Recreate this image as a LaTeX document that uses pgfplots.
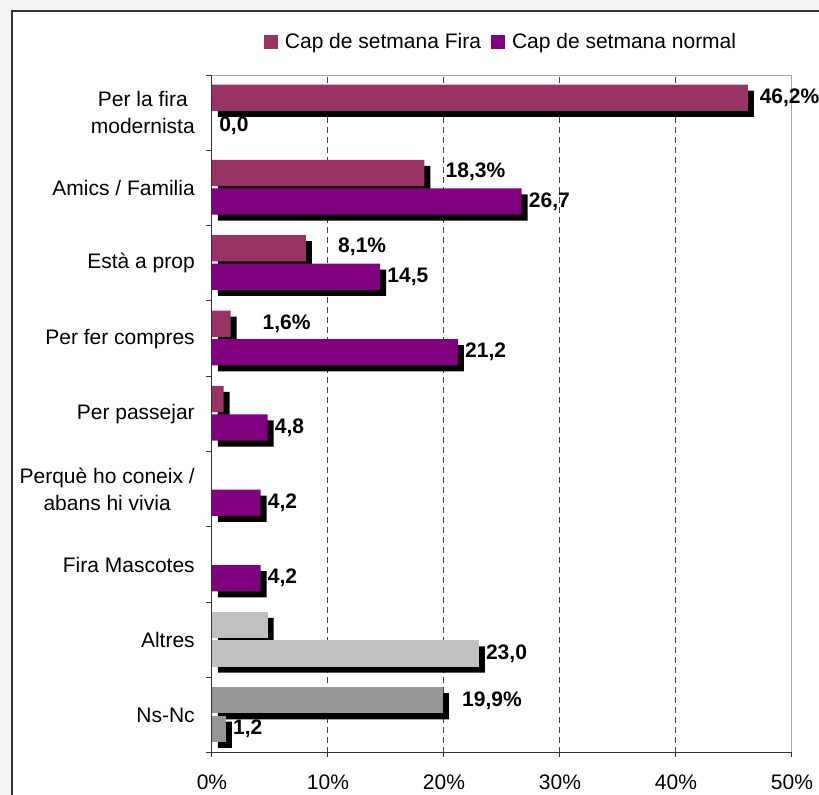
\documentclass[border=0pt]{standalone}
\usepackage{fontspec}
\setmainfont{Liberation Sans}
\usepackage{pgfplots}
\pgfplotsset{compat=1.18}
\definecolor{firacol}{HTML}{993366}
\definecolor{normcol}{HTML}{800080}
\definecolor{altrescol}{HTML}{C0C0C0}
\definecolor{nsnccol}{HTML}{969696}
\definecolor{bgcol}{HTML}{F4F4F4}
\newcommand\cf{\fontsize{15.75}{20.25}\selectfont}

% categories from top to bottom sit at y = 8,7,...,0
% Fira bars at y+0.199, normal bars at y-0.179
\begin{document}
\cf
\begin{tikzpicture}
\useasboundingbox (0,0) rectangle (614.25pt,596.25pt);
\fill[bgcol] (0,0) rectangle (614.25pt,596.25pt);
\begin{scope}
\clip (0,0) rectangle (614.25pt,596.25pt);
\draw[black!80, fill=white, line width=0.9pt] (9pt,-10pt) rectangle (630pt,588pt);
\end{scope}
\begin{axis}[
    at={(159pt,31.5pt)}, anchor=south west,
    scale only axis, width=435pt, height=508.5pt,
    clip=false,
    xmin=0, xmax=50, ymin=-0.5, ymax=8.5,
    axis line style={black!35, line width=0.75pt},
    tick align=outside,
    major tick length=6pt, minor tick length=4.5pt,
    tick style={black!80, line width=0.75pt},
    xtick={0,10,...,50},
    xticklabel={\pgfmathprintnumber{\tick}\%},
    xtick pos=bottom, ytick pos=left,
    xtick style={yshift=3pt},
    extra x ticks={10,20,30,40},
    extra x tick labels={},
    extra x tick style={grid=major, major tick length=0pt},
    major x grid style={black!75, line width=0.75pt, dash pattern=on 4.5pt off 3pt},
    ytick={0,...,8},
    yticklabels={Ns-Nc, Altres, Fira Mascotes, {Perquè ho coneix /\\abans hi vivia}, Per passejar, Per fer compres, Està a prop, Amics / Familia, {Per la fira\\modernista}},
    minor ytick={-0.5,0.5,...,8.5},
    every major y tick/.append style={draw=none},
    tick label style={font=\cf, inner sep=0pt},
    yticklabel style={align=center, xshift=-6.75pt},
    xticklabel style={yshift=-10.5pt},
    /pgf/number format/assume math mode=true,
    legend image code/.code={\fill[#1] (0pt,-5.25pt) rectangle (10.5pt,5.25pt);},
    legend columns=2,
    legend style={draw=none, fill=none, font=\cf, at={(0.4966,1.0487)}, anchor=center,
        nodes={inner sep=0pt},
        /tikz/every odd column/.append style={column sep=5.25pt},
        /tikz/every even column/.append style={column sep=7.5pt}},
    nodes near coords style={font=\cf\bfseries, anchor=west, inner sep=0pt, xshift=5.25pt,
        /pgf/number format/.cd, fixed, fixed zerofill, precision=1, use comma},
]
% shadows
\addplot[forget plot, xbar, bar width=0.349, bar shift=0pt, fill=black, draw=none, xshift=4.5pt, yshift=-4.5pt]
    coordinates {(46.2,8.199) (18.3,7.199) (8.1,6.199) (1.6,5.199) (1.0,4.199) (4.8,1.199) (19.9,0.199)};
\addplot[forget plot, xbar, bar width=0.349, bar shift=0pt, fill=black, draw=none, xshift=4.5pt, yshift=-4.5pt]
    coordinates {(26.7,6.821) (14.5,5.821) (21.2,4.821) (4.8,3.821) (4.2,2.821) (4.2,1.821) (23.0,0.821) (1.2,-0.179)};

% Cap de setmana Fira
\addplot[xbar, bar width=0.349, bar shift=0pt, fill=firacol, draw=none]
    coordinates {(46.2,8.199) (18.3,7.199) (8.1,6.199) (1.6,5.199) (1.0,4.199) (0,3.199) (0,2.199)};
\addlegendentry{Cap de setmana Fira}
% Cap de setmana normal
\addplot[xbar, bar width=0.349, bar shift=0pt, fill=normcol, draw=none, nodes near coords]
    coordinates {(0.0,7.821) (26.7,6.821) (14.5,5.821) (21.2,4.821) (4.8,3.821) (4.2,2.821) (4.2,1.821)};
\addlegendentry{Cap de setmana normal}

% Altres and Ns-Nc
\addplot[forget plot, xbar, bar width=0.349, bar shift=0pt, fill=altrescol, draw=none]
    coordinates {(4.8,1.199)};
\addplot[forget plot, xbar, bar width=0.349, bar shift=0pt, fill=altrescol, draw=none, nodes near coords]
    coordinates {(23.0,0.821)};
\addplot[forget plot, xbar, bar width=0.349, bar shift=0pt, fill=nsnccol, draw=none]
    coordinates {(19.9,0.199)};
\addplot[forget plot, xbar, bar width=0.349, bar shift=0pt, fill=nsnccol, draw=none, nodes near coords]
    coordinates {(1.2,-0.179)};

% labels of the Fira series, placed as in the original
\begin{scope}[every node/.style={font=\cf\bfseries, anchor=west, inner sep=0pt}]
\node at (axis cs:47.2,8.199) {46,2\%};
\node at (axis cs:20.12,7.21) {18,3\%};
\node at (axis cs:10.86,6.22) {8,1\%};
\node at (axis cs:4.34,5.199) {1,6\%};
\node at (axis cs:21.55,0.199) {19,9\%};
\end{scope}

\draw[black!80, line width=0.75pt] (axis cs:0,8.5) -- (axis cs:0,-0.5) -- (axis cs:50,-0.5);
\end{axis}
\end{tikzpicture}
\end{document}
